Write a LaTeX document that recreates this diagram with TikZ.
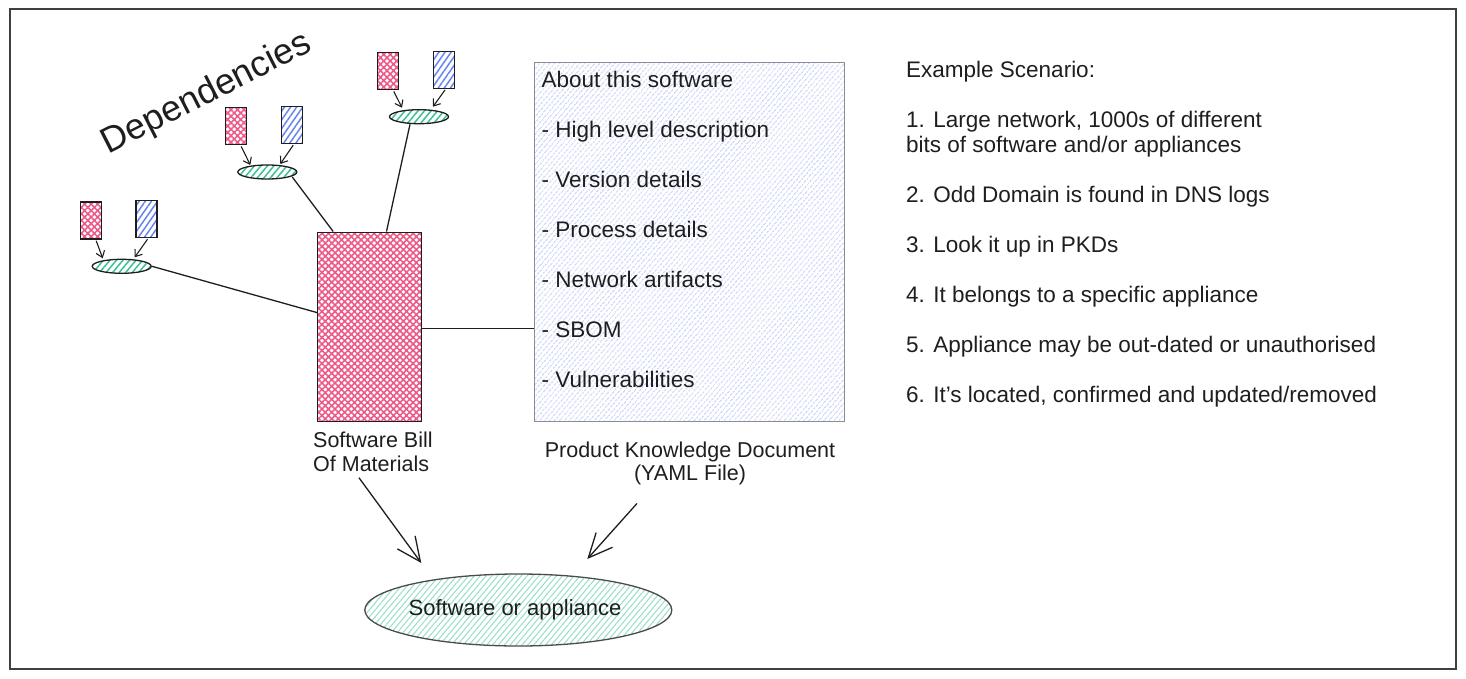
\documentclass[tikz,border=0pt]{standalone}
\usepackage{fontspec}
\setmainfont{Liberation Sans}
\usetikzlibrary{patterns.meta,arrows.meta,calc,shapes.geometric}
\definecolor{inkc}{RGB}{30,30,30}
\definecolor{pinkH}{RGB}{236,90,135}
\definecolor{blueH}{RGB}{105,132,238}
\definecolor{pkdH}{RGB}{140,160,242}
\definecolor{greenH}{RGB}{60,192,146}
\definecolor{devH}{RGB}{150,222,196}
\definecolor{pkdB}{RGB}{140,140,150}
\begin{document}
\begin{tikzpicture}[x=1pt,y=-1pt,
  frame/.style={draw=inkc!85, line width=1.8pt},
  pinkbox/.style={draw=inkc, line width=1.3pt, inner sep=0pt,
    pattern={Hatch[angle=45,distance=4.6pt,line width=1.6pt]}, pattern color=pinkH},
  bluebox/.style={draw=inkc, line width=1.3pt, inner sep=0pt,
    pattern={Lines[angle=55,distance=5pt,line width=1.5pt]}, pattern color=blueH},
  depell/.style={ellipse, draw=inkc, line width=1.3pt, inner sep=0pt,
    minimum width=59pt, minimum height=14pt,
    pattern={Lines[angle=50,distance=5pt,line width=1.5pt]}, pattern color=greenH},
  smallbox/.style={minimum width=21pt, minimum height=37pt},
  pkdbox/.style={draw=pkdB, line width=1.5pt, inner sep=0pt,
    pattern={Lines[angle=50,distance=4pt,line width=0.9pt]}, pattern color=pkdH},
  devell/.style={ellipse, draw=inkc!80, line width=1.3pt, inner sep=0pt,
    pattern={Lines[angle=50,distance=4.5pt,line width=1pt]}, pattern color=devH},
  txt/.style={inner sep=0pt, text=inkc},
  conn/.style={draw=inkc, line width=1.3pt},
  sarr/.style={draw=inkc, line width=1.1pt, -{Straight Barb[length=6pt,width=9pt]}},
  barr/.style={draw=inkc, line width=1.3pt, -{Straight Barb[length=24pt,width=22pt]}}
]
\useasboundingbox (0,0) rectangle (1466,679);
\draw[frame] (10,9) rectangle (1456,669);

% title
\node[txt, rotate=27, font=\fontsize{36}{42}\selectfont] (title) at (207,94) {Dependencies};

% dependency groups
\node[pinkbox, smallbox] (p1) at (91.2,220.5) {};
\node[bluebox, smallbox] (b1) at (146.5,219) {};
\node[depell] (e1) at (121.7,266.3) {};
\node[pinkbox, smallbox] (p2) at (236.2,126.3) {};
\node[bluebox, smallbox] (b2) at (292.2,125) {};
\node[depell] (e2) at (267.3,172) {};
\node[pinkbox, smallbox] (p3) at (387.8,71.3) {};
\node[bluebox, smallbox] (b3) at (444,69.8) {};
\node[depell] (e3) at (419,116.7) {};

\draw[sarr] ($(p1.south)+(5,1)$) -- ($(e1.center)+(-19,-8)$);
\draw[sarr] ($(b1.south)+(1,1)$) -- ($(e1.center)+(13,-9)$);
\draw[sarr] ($(p2.south)+(5,1)$) -- ($(e2.center)+(-17,-7)$);
\draw[sarr] ($(b2.south)+(1,1)$) -- ($(e2.center)+(13,-8)$);
\draw[sarr] ($(p3.south)+(6,1)$) -- ($(e3.center)+(-17,-9)$);
\draw[sarr] ($(b3.south)+(1,1)$) -- ($(e3.center)+(14,-10)$);

% SBOM and PKD
\node[pinkbox, minimum width=104pt, minimum height=189pt] (sbom) at (369.7,326.7) {};
\node[pkdbox, minimum width=310pt, minimum height=359pt] (pkd) at (689.3,242) {};

\draw[conn] (e1.east) -- (sbom.165);
\draw[conn] ($(e2.center)+(25,5)$) -- (sbom.111);
\draw[conn] ($(e3.south)+(-9,0)$) -- (sbom.80);
\draw[conn] ($(sbom.east)+(0,1.5)$) -- ($(sbom.east -| pkd.west)+(0,1.5)$);

\node[txt, anchor=north west, align=left, font=\fontsize{22.5}{25}\selectfont] (pkdtext) at (541.5,70.5)
  {About this software\\[25pt]- High level description\\[25pt]- Version details\\[25pt]- Process details\\[25pt]- Network artifacts\\[25pt]- SBOM\\[25pt]- Vulnerabilities};

\node[txt, anchor=north west, align=left, font=\fontsize{21.5}{23.5}\selectfont] (sbomlbl) at (313,432)
  {Software Bill\\Of Materials};
\node[txt, anchor=north, align=center, font=\fontsize{21.5}{23.5}\selectfont] (pkdlbl) at (690,441.5)
  {Product Knowledge Document\\(YAML File)};

% device
\node[devell, minimum width=307pt, minimum height=72pt] (dev) at (518.3,610) {};
\node[txt, font=\fontsize{22}{25}\selectfont] (devtext) at (515,610) {Software or appliance};

\draw[barr] ($(sbomlbl.south)+(-14,6)$) -- ($(dev.center)+(-97,-47)$);
\draw[barr] ($(pkdlbl.south)+(-53,18)$) -- ($(dev.center)+(69,-51)$);

% scenario
\node[txt, anchor=north west, align=left, font=\fontsize{22.5}{25}\selectfont] (scen) at (906,61)
  {Example Scenario:\\[25pt]1. Large network, 1000s of different\\bits of software and/or appliances\\[25pt]2. Odd Domain is found in DNS logs\\[25pt]3. Look it up in PKDs\\[25pt]4. It belongs to a specific appliance\\[25pt]5. Appliance may be out-dated or unauthorised\\[25pt]6. It\char39 s located, confirmed and updated/removed};
\end{tikzpicture}
\end{document}
